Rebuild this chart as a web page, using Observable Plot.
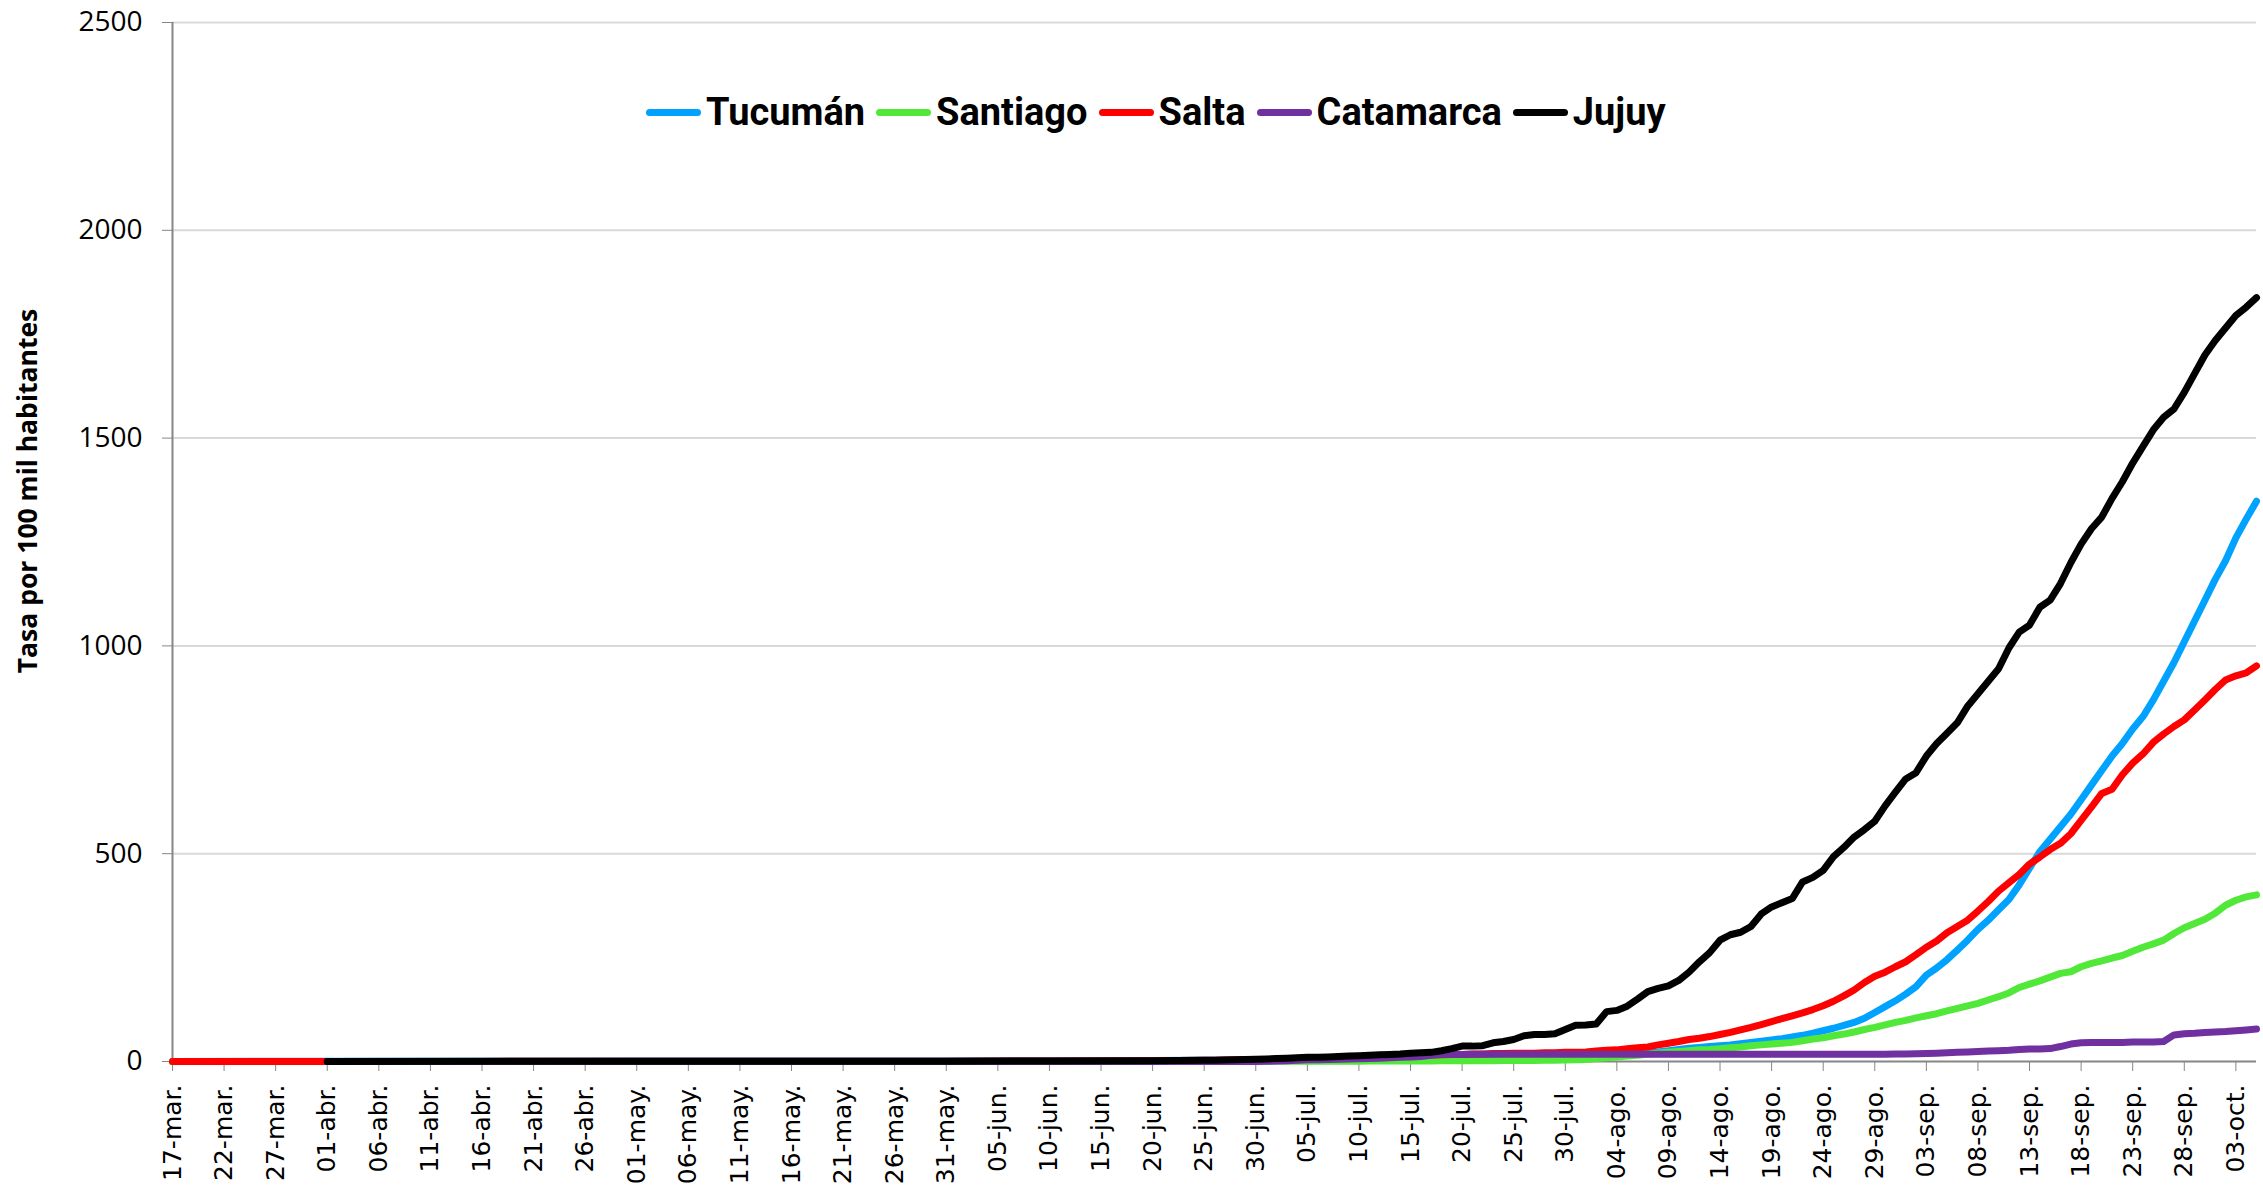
<!DOCTYPE html>
<html>
<head>
<meta charset="utf-8">
<script src="https://cdn.jsdelivr.net/npm/d3@7"></script>
<script src="https://cdn.jsdelivr.net/npm/@observablehq/plot@0.6"></script>
<style>
  html, body { margin: 0; padding: 0; background: #fff; }
  #wrap { position: relative; width: 2263px; height: 1186px; }
  #legend { position: absolute; left: 646px; top: 90px; height: 44px; display: flex; align-items: center;
            font-family: Roboto, "Noto Sans", sans-serif; font-weight: 700; font-size: 38px; color: #000; white-space: nowrap; }
  #legend .item { display: flex; align-items: center; margin-right: 11px; }
  #legend .sw { width: 55px; height: 7px; border-radius: 4px; margin-right: 5px; }
  #ytitle { position: absolute; left: 27px; top: 491px; transform: translate(-50%, -50%) rotate(-90deg);
            font-family: "Open Sans", sans-serif; font-weight: 700; font-size: 26.5px; color: #000; white-space: nowrap; }
</style>
</head>
<body>
<div id="wrap"><div id="legend"></div><div id="ytitle"></div></div>
<script>
// ---- categories / dates ----
const fechasIniciales = ["2020-03-17","2020-04-01","2020-04-16","2020-05-01","2020-05-16","2020-05-31","2020-06-10","2020-06-20"];
const inicioDiario = "2020-06-25";
const finDiario = "2020-10-05";
const meses = ["ene.","feb.","mar.","abr.","may.","jun.","jul.","ago.","sep.","oct.","nov.","dic."];
const yTicks = [0, 500, 1000, 1500, 2000, 2500];
const tituloY = "Tasa por 100 mil habitantes";
const nombres = ["Tucumán", "Santiago", "Salta", "Catamarca", "Jujuy"];
const colores = ["#00a2ff", "#52e83a", "#ff0000", "#7030a0", "#000000"];

// ---- series values (tasa por 100 mil hab.) ----
const tucuman = [0.1,0.5,0.8,1,1.2,1.5,2,2.5,
  3,3,3.5,3.5,4,4,4.5,5,5,5.5,
  6,6,6.5,7,7,7.5,8,8,8.5,9,
  9,9.5,10,10,10.5,11,11,11.5,12,12,
  12.5,13,13,13.5,14,15,15,16,16,17,
  18,19,20,21,23,26,29,32,34,36,
  38,40,43,46,49,52,55,59,63,68,
  74,80,87,94,104,118,132,146,162,180,
  208,225,245,268,292,318,340,365,390,425,
  465,505,535,565,595,630,665,700,735,765,
  800,830,870,915,960,1010,1060,1110,1160,1205,
  1260,1305,1348];
const santiago = [0,0,0.1,0.1,0.1,0.2,0.2,0.3,
  0.3,0.3,0.3,0.4,0.4,0.4,0.5,0.5,0.5,0.6,
  0.6,0.7,0.7,0.8,0.8,0.9,1,1,1.1,1.2,
  1.3,1.4,1.5,1.6,1.7,1.8,1.9,2,2.1,2.2,
  2.3,2.5,2.7,2.9,3.2,3.5,4,5,7,9,
  11,13,15,18,20,22,24,26,28,29,
  31,33,35,38,40,42,44,46,50,54,
  57,62,66,71,77,82,88,94,99,105,
  110,115,122,128,134,140,148,156,165,178,
  186,194,203,212,216,228,236,242,249,255,
  265,275,283,292,308,322,332,342,357,376,
  388,396,401];
const salta = [0,0.2,0.3,0.4,0.5,0.8,1.2,2,
  3,3,3.5,4,4,4.5,5,5,5.5,6,
  6.5,7,7.5,8,8.5,9,10,11,12,13,
  14,15,16,16,17,17,18,18,19,19,
  20,20,20,21,21,22,22,23,25,27,
  28,31,33,35,40,44,48,53,56,60,
  65,70,76,82,89,96,103,110,117,125,
  134,145,158,172,190,205,215,228,240,257,
  275,290,310,325,340,362,385,410,430,450,
  475,492,510,525,548,580,612,645,655,690,
  718,740,768,788,806,822,846,870,895,918,
  928,935,952];
const catamarca = [null,0,0,0,0,0,0,0,
  0,0,0,0,0,0.2,0.5,1,2,3,
  4,4.5,5,5.5,6,6.5,7,8,9,10,
  11,12,15,17,17,17,17.5,17.5,17.5,17.5,
  17.5,17.5,17.5,17.5,17.5,17.5,17.5,17.5,17.5,17.5,
  17.5,17.5,17.5,17.5,17.5,17.5,17.5,17.5,17.5,17.5,
  17.5,17.5,17.5,17.5,17.5,17.5,17.5,17.5,17.5,17.5,
  17.5,17.5,17.5,17.5,17.5,17.5,17.5,18,18,18.5,
  19,20,21,22,23,24,25,26,27,29,
  30,30,31,36,42,45,46,46,46,46,
  47,47,47,48,64,67,68,70,71,72,
  74,76,78];
const jujuy = [null,0.3,0.7,0.7,0.8,0.8,1,2,
  3,3,3.5,4,5,5.5,6,7,8,9,
  10,10.5,11,12,13,14,15,16,17,18,
  20,21,22,26,31,37,37,38,45,48,
  53,62,65,65,67,77,87,88,90,120,
  123,133,150,168,176,182,195,215,240,262,
  292,305,311,325,355,372,382,392,432,443,
  460,493,515,540,558,578,615,648,680,695,
  735,765,790,815,855,885,915,945,995,1033,
  1050,1093,1110,1150,1200,1245,1282,1310,1355,1395,
  1440,1480,1520,1550,1570,1610,1655,1700,1735,1765,
  1795,1815,1838];

// ---- build tables ----
const fechas = [
  ...fechasIniciales.map(s => new Date(s)),
  ...d3.utcDay.range(new Date(inicioDiario), d3.utcDay.offset(new Date(finDiario), 1))
];
const valores = [tucuman, santiago, salta, catamarca, jujuy];
const series = nombres.map((n, i) => ({
  nombre: n, color: colores[i],
  filas: fechas.map((f, j) => ({fecha: f, valor: valores[i][j]})).filter(d => d.valor != null)
}));
const inicio = new Date(fechasIniciales[0]);
const fin = new Date(finDiario);
const tickFechas = d3.utcDay.range(inicio, d3.utcDay.offset(fin, -1), 5);
const fmt = d => String(d.getUTCDate()).padStart(2, "0") + "-" + meses[d.getUTCMonth()];

const chart = Plot.plot({
  width: 2263, height: 1186,
  marginTop: 22, marginBottom: 125, marginLeft: 172, marginRight: 7,
  x: {type: "utc", domain: [inicio, fin]},
  y: {domain: [0, 2500], label: null},
  style: {background: "white", overflow: "visible"},
  marks: [
    Plot.ruleY(yTicks.filter(v => v > 0), {stroke: "#d9d9d9", strokeWidth: 2}),
    Plot.ruleX([inicio], {stroke: "#868686", strokeWidth: 2}),
    Plot.ruleY([0], {stroke: "#868686", strokeWidth: 2}),
    Plot.axisY(yTicks, {tickFormat: d => String(d), tickSize: 10, tickPadding: 20, fontSize: 28,
      fontFamily: "Open Sans", stroke: "#868686", fill: "#000", label: null}),
    Plot.axisX(tickFechas, {tickFormat: fmt, tickRotate: -90, tickSize: 10, tickPadding: 13, fontSize: 25,
      fontFamily: "DejaVu Sans", stroke: "#868686", fill: "#000", label: null}),
    ...series.map(s => Plot.line(s.filas, {x: "fecha", y: "valor", stroke: s.color, strokeWidth: 7,
      strokeLinejoin: "round", strokeLinecap: "round"}))
  ]
});
document.getElementById("wrap").prepend(chart);
document.getElementById("ytitle").textContent = tituloY;

const leg = document.getElementById("legend");
nombres.forEach((n, i) => {
  const it = document.createElement("div"); it.className = "item";
  const sw = document.createElement("div"); sw.className = "sw"; sw.style.background = colores[i];
  const tx = document.createElement("span"); tx.textContent = n;
  it.append(sw, tx); leg.append(it);
});
</script>
</body>
</html>
